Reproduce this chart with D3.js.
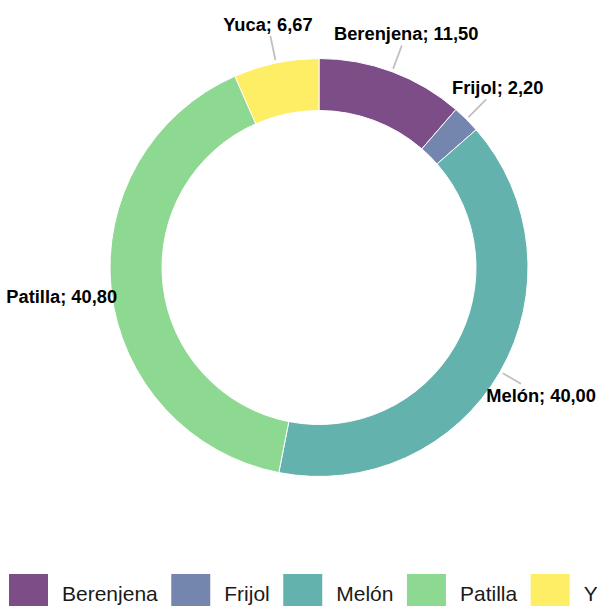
<!DOCTYPE html>
<html>
<head>
<meta charset="utf-8">
<script src="https://cdn.jsdelivr.net/npm/d3@7"></script>
<style>
  html, body { margin: 0; padding: 0; background: #fff; overflow: hidden; }
  svg { display: block; font-family: "Liberation Sans", Arial, Helvetica, sans-serif; }
</style>
</head>
<body>
<svg id="chart" width="597" height="606"></svg>
<script>
// Harvest share by crop
const categories = ["Berenjena", "Frijol", "Melón", "Patilla", "Yuca"];
const values = [11.50, 2.20, 40.00, 40.80, 6.67];

const width = 597, height = 606;
const cx = 319, cy = 267.5;
const outerR = 209, innerR = 157;
const labelFont = 18.3, legendFont = 21;

const svg = d3.select("#chart");

const color = d3.scaleOrdinal()
  .domain(categories)
  .range(categories.map((_, i) => d3.interpolateViridis(i / (categories.length - 1))));

const fmt = v => d3.format(".2f")(v).replace(".", ",");

const data = categories.map((c, i) => ({ name: c, value: values[i] }));
const pie = d3.pie().sort(null).value(d => d.value).startAngle(0).endAngle(2 * Math.PI);
const arcs = pie(data);
const arc = d3.arc().innerRadius(innerR).outerRadius(outerR);

const g = svg.append("g").attr("transform", `translate(${cx},${cy})`);

g.selectAll("path.slice")
  .data(arcs)
  .join("path")
  .attr("class", "slice")
  .attr("d", arc)
  .attr("fill", d => color(d.data.name))
  .attr("fill-opacity", 0.7)
  .attr("stroke", "#fff")
  .attr("stroke-width", 1);

// polar helper: angle measured clockwise from 12 o'clock
const polar = (r, a) => [r * Math.sin(a), -r * Math.cos(a)];

const labels = g.append("g");
arcs.forEach(d => {
  const mid = (d.startAngle + d.endAngle) / 2;
  const s = Math.sin(mid);
  const rl = outerR + 39 + 11 * s * s;
  const [lx, ly] = polar(rl, mid);
  const capH = labelFont * 0.72;

  const t = labels.append("text")
    .attr("x", lx)
    .attr("y", ly + capH / 2)
    .attr("text-anchor", "middle")
    .attr("font-size", labelFont)
    .attr("font-weight", "bold")
    .attr("fill", "#000")
    .text(`${d.data.name}; ${fmt(d.data.value)}`);
  const w = t.node().getComputedTextLength();

  // leader from just outside the ring toward the label, stopping short of the text box
  const [sx, sy] = polar(outerR + 3, mid);
  const dx = sx - lx, dy = sy - ly;
  const hw = w / 2 + 5, hh = capH / 2 + 5;
  const k = Math.min(Math.abs(hw / dx), Math.abs(hh / dy));
  if (k < 1) {
    labels.insert("line", "text")
      .attr("x1", sx).attr("y1", sy)
      .attr("x2", lx + dx * k).attr("y2", ly + dy * k)
      .attr("stroke", "#c0c0c0")
      .attr("stroke-width", 1.8);
  }
});

// Legend row along the bottom
const sw = 39;
const legend = svg.append("g").attr("transform", "translate(9,574)");
let x = 0;
categories.forEach(c => {
  const item = legend.append("g").attr("transform", `translate(${x},0)`);
  item.append("rect")
    .attr("width", sw).attr("height", sw)
    .attr("fill", color(c)).attr("fill-opacity", 0.7);
  const t = item.append("text")
    .attr("x", sw + 14)
    .attr("y", 27)
    .attr("font-size", legendFont)
    .attr("fill", "#1a1a1a")
    .text(c);
  x += sw + 14 + t.node().getComputedTextLength() + 13.5;
});
</script>
</body>
</html>
